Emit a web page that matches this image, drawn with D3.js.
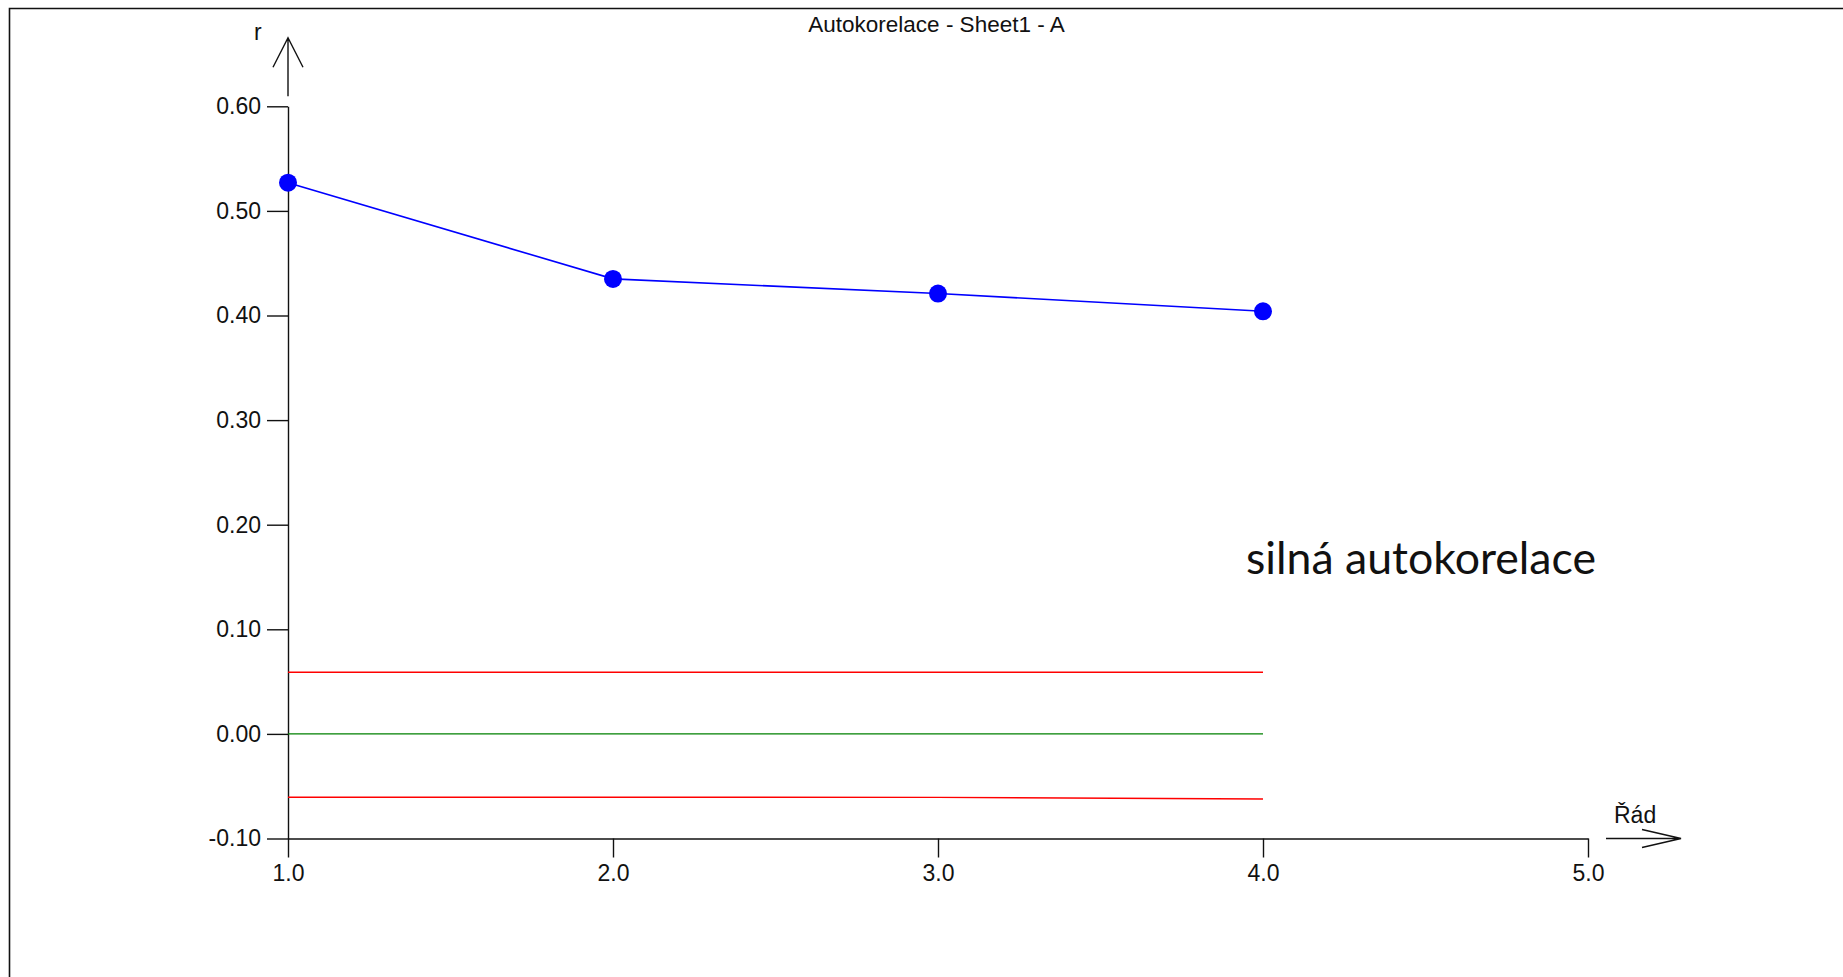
<!DOCTYPE html>
<html>
<head>
<meta charset="utf-8">
<script src="https://cdn.jsdelivr.net/npm/d3@7"></script>
<style>
  html, body { margin: 0; padding: 0; background: #fff; }
  svg { display: block; }
  text { font-family: "Liberation Sans", Arial, sans-serif; fill: #111; }
</style>
</head>
<body>
<div id="chart"></div>
<script>
// data
const lags = [1, 2, 3, 4];
const rValues = [0.527, 0.435, 0.421, 0.404];
const upperBound = [0.059, 0.059, 0.059, 0.059];
const zeroLine = [0, 0, 0, 0];
const lowerBound = [-0.0605, -0.0605, -0.0607, -0.0622];
const xTicks = [1, 2, 3, 4, 5];
const yTicks = [-0.1, 0, 0.1, 0.2, 0.3, 0.4, 0.5, 0.6];

const chartTitle = "Autokorelace - Sheet1 - A";
const xLabel = "Řád";
const yLabel = "r";
const note = "silná autokorelace";

const width = 1843, height = 977;

const svg = d3.select("#chart")
    .append("svg")
    .attr("width", width)
    .attr("height", height);

// frame (only left and top edges are visible)
svg.append("path")
    .attr("d", "M9.5,977 L9.5,8.5 L1843,8.5")
    .attr("fill", "none")
    .attr("stroke", "#111")
    .attr("stroke-width", 1.6);

const x = d3.scaleLinear()
    .domain([1, 5])
    .range([288, 1588]);

const y = d3.scaleLinear()
    .domain([-0.1, 0.6])
    .range([838.5, 106.3]);

// plain hyphen for negatives, like the original
const fmtY = function (d) { return d3.format(".2f")(d).replace("\u2212", "-"); };

// title
svg.append("text")
    .attr("x", 936.5)
    .attr("y", 31.5)
    .attr("text-anchor", "middle")
    .style("font-size", "22.5px")
    .text(chartTitle);

// x axis
const xAxis = svg.append("g")
    .attr("transform", `translate(0, ${y(-0.1)})`)
    .call(d3.axisBottom(x)
        .tickValues(xTicks)
        .tickFormat(d3.format(".1f"))
        .tickSize(19)
        .tickSizeOuter(0)
        .tickPadding(7));

// y axis
const yAxis = svg.append("g")
    .attr("transform", `translate(${x(1)}, 0)`)
    .call(d3.axisLeft(y)
        .tickValues(yTicks)
        .tickFormat(fmtY)
        .tickSize(21)
        .tickSizeOuter(0)
        .tickPadding(6));

[xAxis, yAxis].forEach(function (g) {
    g.selectAll("path, line")
        .attr("stroke", "#111")
        .attr("stroke-width", 1.4);
    g.selectAll("text")
        .style("font-size", "23px")
        .style("font-family", "'Liberation Sans', Arial, sans-serif")
        .attr("fill", "#111");
});

// axis arrows
const ax = x(1), ayTop = y(0.6);
svg.append("path")
    .attr("d", `M${ax},${ayTop - 10} L${ax},${ayTop - 68.6} M${ax - 15},${ayTop - 39} L${ax},${ayTop - 68.6} L${ax + 15},${ayTop - 39}`)
    .attr("fill", "none")
    .attr("stroke", "#111")
    .attr("stroke-width", 1.4);

const bx = x(5), by = y(-0.1);
svg.append("path")
    .attr("d", `M${bx + 18},${by} L${bx + 93},${by} M${bx + 54},${by - 9} L${bx + 93},${by} L${bx + 54},${by + 9}`)
    .attr("fill", "none")
    .attr("stroke", "#111")
    .attr("stroke-width", 1.4);

svg.append("text")
    .attr("x", 254)
    .attr("y", 40)
    .style("font-size", "23px")
    .text(yLabel);

svg.append("text")
    .attr("x", 1614)
    .attr("y", 823)
    .style("font-size", "23px")
    .text(xLabel);

// reference lines
const line = d3.line()
    .x(function (d) { return x(d[0]); })
    .y(function (d) { return y(d[1]); });

const refLines = [
    {values: upperBound, color: "#ff0000"},
    {values: zeroLine, color: "#008000"},
    {values: lowerBound, color: "#ff0000"}
];

svg.append("g")
    .selectAll("path")
    .data(refLines)
    .enter()
    .append("path")
        .attr("d", function (d) { return line(d3.zip(lags, d.values)); })
        .attr("fill", "none")
        .attr("stroke", function (d) { return d.color; })
        .attr("stroke-width", 1.4);

// autocorrelation series
const series = d3.zip(lags, rValues);

svg.append("path")
    .attr("d", line(series))
    .attr("fill", "none")
    .attr("stroke", "#0000ff")
    .attr("stroke-width", 1.6);

svg.append("g")
    .selectAll("circle")
    .data(series)
    .enter()
    .append("circle")
        .attr("cx", function (d) { return x(d[0]); })
        .attr("cy", function (d) { return y(d[1]); })
        .attr("r", 9)
        .attr("fill", "#0000ff");

// annotation
const noteText = svg.append("text")
    .attr("x", 1246)
    .attr("y", 574)
    .style("font-family", "Lato, 'Open Sans', sans-serif")
    .style("font-size", "44px")
    .text(note);

// fit annotation width to the original
const w = noteText.node().getComputedTextLength();
noteText.style("font-size", (44 * 350 / w) + "px");
</script>
</body>
</html>
